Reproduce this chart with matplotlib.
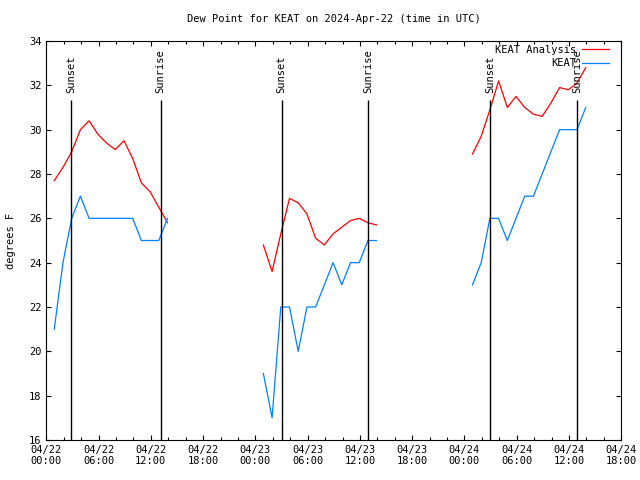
import numpy as np
import pandas as pd
import matplotlib
matplotlib.use("Agg")
import matplotlib.pyplot as plt
import matplotlib.dates as mdates

plt.rcParams['font.family'] = ['DejaVu Sans Mono']

# hourly obs, three blocks (first ob at :55)
seg_starts = ["2024-04-22 00:55", "2024-04-23 00:55", "2024-04-24 00:55"]

analysis = [
    [27.7, 28.3, 29.0, 30.0, 30.4, 29.8, 29.4, 29.1, 29.5, 28.7, 27.6, 27.2, 26.5, 25.8],
    [24.8, 23.6, 25.3, 26.9, 26.7, 26.2, 25.1, 24.8, 25.3, 25.6, 25.9, 26.0, 25.8, 25.7],
    [28.9, 29.7, 30.9, 32.2, 31.0, 31.5, 31.0, 30.7, 30.6, 31.2, 31.9, 31.8, 32.1, 32.8],
]
obs = [
    [21, 24, 26, 27, 26, 26, 26, 26, 26, 26, 25, 25, 25, 26],
    [19, 17, 22, 22, 20, 22, 22, 23, 24, 23, 24, 24, 25, 25],
    [23, 24, 26, 26, 25, 26, 27, 27, 28, 29, 30, 30, 30, 31],
]

sun_times = ["2024-04-22 02:52", "2024-04-22 13:07", "2024-04-23 03:00",
             "2024-04-23 12:58", "2024-04-24 02:58", "2024-04-24 12:57"]
sun_names = ["Sunset", "Sunrise", "Sunset", "Sunrise", "Sunset", "Sunrise"]

fig = plt.figure(figsize=(6.4, 4.8), dpi=100)
ax = fig.add_axes([0.0723, 0.0833, 0.8985, 0.8313])

for i, st in enumerate(seg_starts):
    t = pd.date_range(st, periods=len(analysis[i]), freq="h")
    ax.plot(t, analysis[i], color="#ff0000", lw=0.9,
            label="KEAT Analysis" if i == 0 else None)
    ax.plot(t, obs[i], color="#0080ff", lw=0.9,
            label="KEAT" if i == 0 else None)

for ts, name in zip(sun_times, sun_names):
    t = pd.Timestamp(ts)
    ax.vlines(t, 16, 31.35, color="black", lw=1.0)
    ax.text(t, 31.65, name, rotation=90, ha="center", va="bottom", fontsize=7.5)

ax.set_xlim(pd.Timestamp("2024-04-22 00:00"), pd.Timestamp("2024-04-24 18:00"))
ax.set_ylim(16, 34)
ax.set_yticks(np.arange(16, 35, 2))
ax.xaxis.set_major_locator(mdates.HourLocator(byhour=[0, 6, 12, 18]))
ax.xaxis.set_minor_locator(mdates.HourLocator(byhour=range(0, 24, 2)))
ax.xaxis.set_major_formatter(mdates.DateFormatter("%m/%d\n%H:%M"))
ax.tick_params(which="both", direction="in", top=True, right=True, labelsize=7.5)
ax.tick_params(which="major", length=3.5, width=0.8)
ax.tick_params(which="minor", length=2, width=0.8)
for s in ax.spines.values():
    s.set_linewidth(0.8)

ax.set_ylabel("degrees F", fontsize=7.5, labelpad=9)
ax.set_title("Dew Point for KEAT on 2024-Apr-22 (time in UTC)", fontsize=7.5, pad=14)
ax.legend(loc="upper right", bbox_to_anchor=(0.96, 0.918), bbox_transform=fig.transFigure,
          frameon=False, markerfirst=False, fontsize=7.5, handlelength=2.6,
          borderpad=0, labelspacing=0.35, handletextpad=0.6)

plt.savefig("out.png", dpi=100)
